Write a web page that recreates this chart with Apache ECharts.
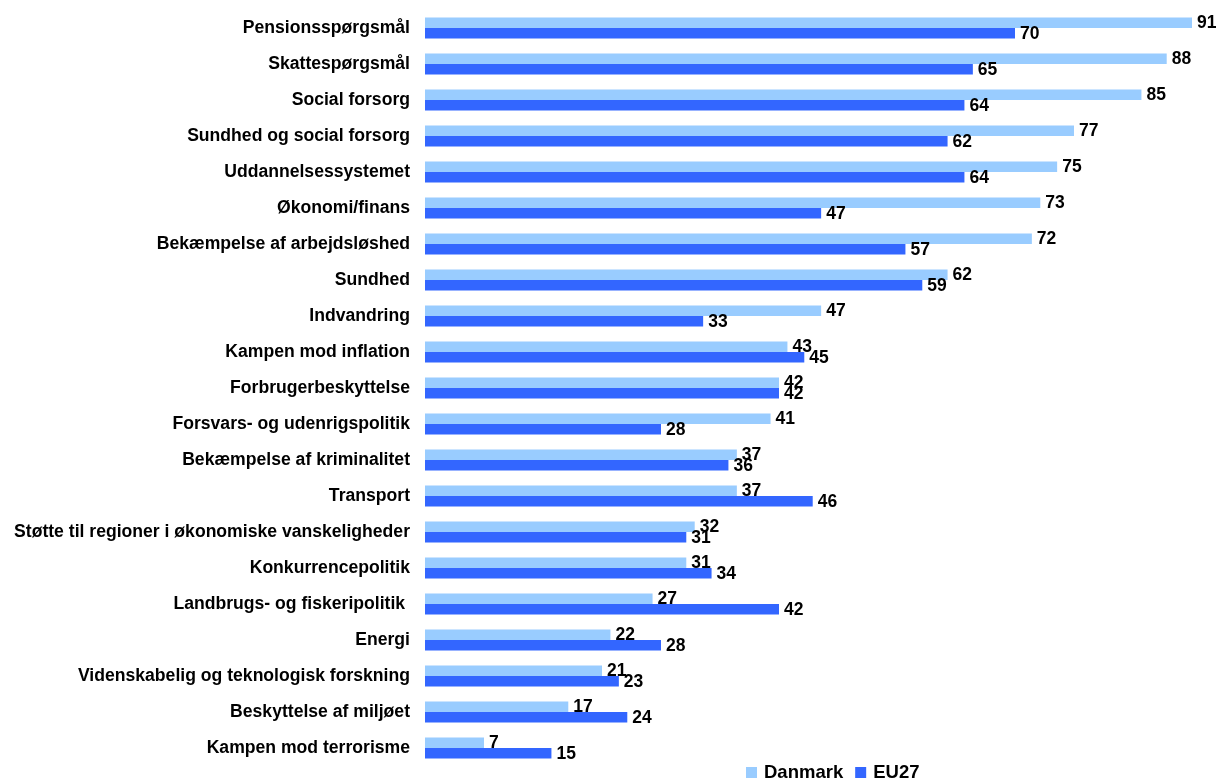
<!DOCTYPE html>
<html><head><meta charset="utf-8">
<script src="https://cdn.jsdelivr.net/npm/echarts@6/dist/echarts.min.js"></script>
<style>html,body{margin:0;padding:0;background:#fff}#c{width:1218px;height:782px}</style>
</head><body><div id="c"></div>
<script>
const categories = ["Pensionsspørgsmål","Skattespørgsmål","Social forsorg","Sundhed og social forsorg","Uddannelsessystemet","Økonomi/finans","Bekæmpelse af arbejdsløshed","Sundhed","Indvandring","Kampen mod inflation","Forbrugerbeskyttelse","Forsvars- og udenrigspolitik","Bekæmpelse af kriminalitet","Transport","Støtte til regioner i økonomiske vanskeligheder","Konkurrencepolitik","Landbrugs- og fiskeripolitik ","Energi","Videnskabelig og teknologisk forskning","Beskyttelse af miljøet","Kampen mod terrorisme"];
const danmark = [91,88,85,77,75,73,72,62,47,43,42,41,37,37,32,31,27,22,21,17,7];
const eu27 = [70,65,64,62,64,47,57,59,33,45,42,28,36,46,31,34,42,28,23,24,15];
const seriesNames = ["Danmark","EU27"];

const FONT = "'Liberation Sans', Arial, sans-serif";
const chart = echarts.init(document.getElementById('c'));
const lbl = {show:true, position:'right', distance:5, color:'#000', fontWeight:'bold', fontSize:17.5, fontFamily:FONT};
chart.setOption({
  animation:false,
  textStyle:{fontFamily:FONT},
  grid:{left:425, right:26, top:10, bottom:16, containLabel:false},
  legend:{top:763, left:746, padding:0, itemWidth:11, itemHeight:11, itemGap:12,
    icon:'rect', textStyle:{fontSize:18.5, fontWeight:'bold', color:'#000', fontFamily:FONT, padding:[0,0,0,2]},
    data:seriesNames},
  xAxis:{type:'value', min:0, max:91, show:false},
  yAxis:{type:'category', inverse:true, data:categories,
    axisLine:{show:false}, axisTick:{show:false},
    axisLabel:{margin:15, color:'#000', fontWeight:'bold', fontSize:17.6, fontFamily:FONT}},
  series:[
    {name:seriesNames[0], type:'bar', data:danmark, barWidth:10.5, barGap:'0%', itemStyle:{color:'#99CCFF'}, label:lbl},
    {name:seriesNames[1], type:'bar', data:eu27, barWidth:10.5, barGap:'0%', itemStyle:{color:'#3366FF'}, label:Object.assign({}, lbl, {offset:[0,1]})}
  ]
});
</script></body></html>
